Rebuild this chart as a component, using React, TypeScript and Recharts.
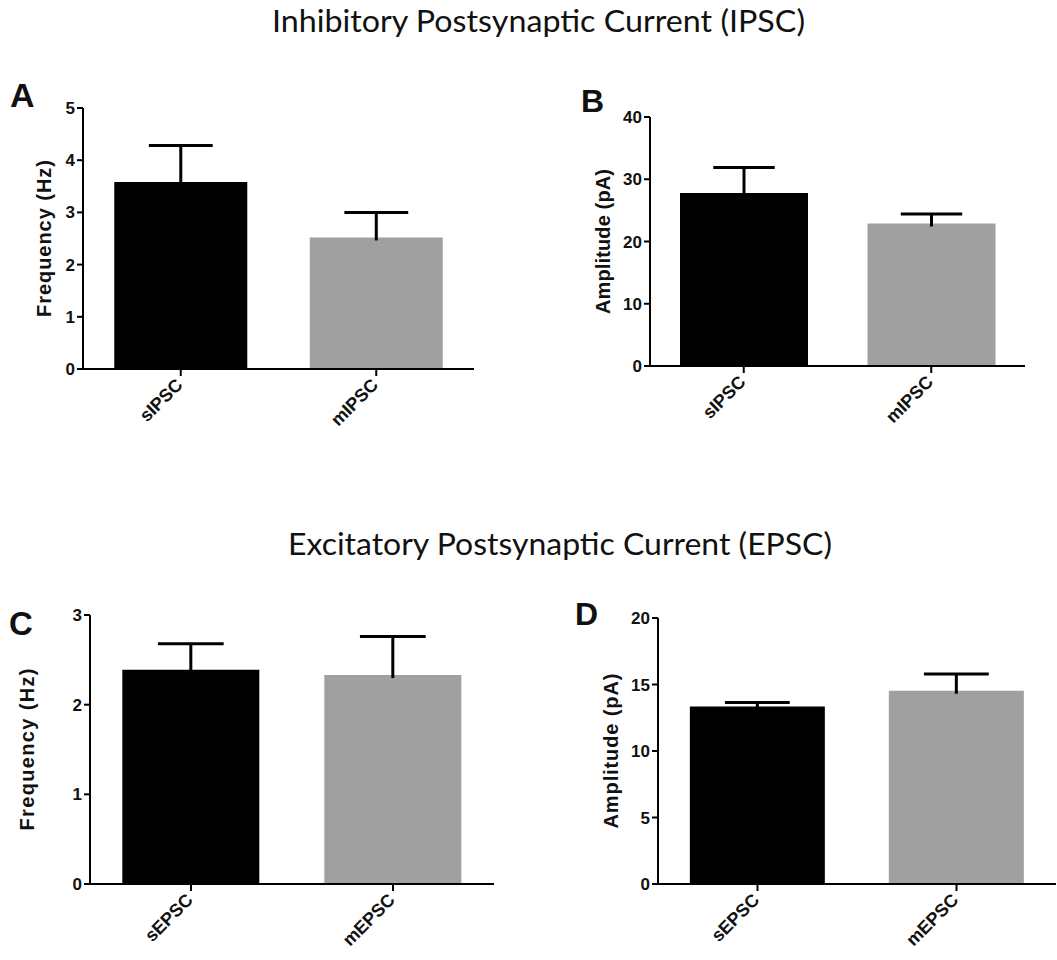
import React from 'react';
import { BarChart, Bar, XAxis, YAxis, Cell, Label } from 'recharts';

// ---------- data ----------
const ipscCategories = ['sIPSC', 'mIPSC'];
const ipscFrequency = [3.58, 2.52];
const ipscFrequencySem = [0.7, 0.48];
const ipscAmplitude = [27.8, 22.9];
const ipscAmplitudeSem = [4.1, 1.5];

const epscCategories = ['sEPSC', 'mEPSC'];
const epscFrequency = [2.39, 2.33];
const epscFrequencySem = [0.29, 0.43];
const epscAmplitude = [13.35, 14.53];
const epscAmplitudeSem = [0.3, 1.26];

const freqTicksA = [0, 1, 2, 3, 4, 5];
const ampTicksB = [0, 10, 20, 30, 40];
const freqTicksC = [0, 1, 2, 3];
const ampTicksD = [0, 5, 10, 15, 20];

const barColors = ['#000000', '#a0a0a0'];

const titleIPSC = 'Inhibitory Postsynaptic Current (IPSC)';
const titleEPSC = 'Excitatory Postsynaptic Current (EPSC)';
const freqLabel = 'Frequency (Hz)';
const ampLabel = 'Amplitude (pA)';

const ARIAL = 'Arial, "Liberation Sans", Helvetica, sans-serif';

// ---------- helpers ----------
const ErrShape = (props: any) => {
  const { x, y, width, height } = props;
  if (x == null || y == null) return null;
  const cx = x + width / 2;
  const capW = width * 0.48;
  return (
    <g>
      <line x1={cx} x2={cx} y1={y} y2={y + height + 3} stroke="#000" strokeWidth={3} />
      <line x1={cx - capW / 2} x2={cx + capW / 2} y1={y} y2={y} stroke="#000" strokeWidth={3} />
    </g>
  );
};

const XTick = (props: any) => {
  const { x, y, payload } = props;
  return (
    <g transform={`translate(${x + 3},${y + 8}) rotate(-45)`}>
      <text x={0} y={0} textAnchor="end" fontFamily={ARIAL} fontWeight="bold" fontSize={18} fill="#111">
        {payload.value}
      </text>
    </g>
  );
};

const makeYLabel = (text: string, offset: number, length: number) => (props: any) => {
  const vb = props.viewBox || {};
  const cx = vb.x + vb.width - offset;
  const cy = vb.y + vb.height / 2;
  return (
    <text
      x={cx}
      y={cy}
      transform={`rotate(-90 ${cx} ${cy})`}
      textAnchor="middle"
      dominantBaseline="central"
      textLength={length}
      lengthAdjust="spacing"
      fontFamily={ARIAL}
      fontWeight="bold"
      fontSize={20}
      fill="#111"
    >
      {text}
    </text>
  );
};

type PanelProps = {
  left: number;
  top: number;
  width: number;
  height: number;
  margin: { top: number; right: number; bottom: number; left: number };
  categories: string[];
  values: number[];
  sems: number[];
  ticks: number[];
  yLabel: string;
  yLabelOffset: number;
  yLabelLength: number;
};

const Panel = (p: PanelProps) => {
  const data = p.categories.map((name, i) => ({ name, value: p.values[i], sem: p.sems[i] }));
  return (
    <div style={{ position: 'absolute', left: p.left, top: p.top }}>
      <BarChart width={p.width} height={p.height} data={data} margin={p.margin} barCategoryGap="16%">
        <XAxis
          dataKey="name"
          height={60}
          interval={0}
          axisLine={{ stroke: '#000', strokeWidth: 2 }}
          tickLine={{ stroke: '#000', strokeWidth: 2 }}
          tickSize={7}
          tick={<XTick />}
        />
        <YAxis
          width={40}
          type="number"
          domain={[p.ticks[0], p.ticks[p.ticks.length - 1]]}
          ticks={p.ticks}
          allowDataOverflow
          interval={0}
          axisLine={{ stroke: '#000', strokeWidth: 2 }}
          tickLine={{ stroke: '#000', strokeWidth: 2 }}
          tickSize={6}
          tick={{ fill: '#111', fontSize: 17, fontWeight: 'bold', fontFamily: ARIAL }}
        >
          <Label content={makeYLabel(p.yLabel, p.yLabelOffset, p.yLabelLength)} />
        </YAxis>
        <Bar dataKey="value" stackId="s" isAnimationActive={false}>
          {data.map((d, i) => (
            <Cell key={d.name} fill={barColors[i]} />
          ))}
        </Bar>
        <Bar dataKey="sem" stackId="s" isAnimationActive={false} shape={<ErrShape />} />
      </BarChart>
    </div>
  );
};

export default function App() {
  return (
    <div style={{ position: 'absolute', left: 0, top: 0, width: 1057, height: 960, background: '#fff', overflow: 'hidden' }}>
      <svg width={1057} height={960} style={{ position: 'absolute', left: 0, top: 0 }}>
        <text x={538.5} y={32} textAnchor="middle" fontFamily="Lato, 'Open Sans', sans-serif" fontSize={30} fill="#111" textLength={533} lengthAdjust="spacingAndGlyphs">
          {titleIPSC}
        </text>
        <text x={560} y={555} textAnchor="middle" fontFamily="Lato, 'Open Sans', sans-serif" fontSize={30} fill="#111" textLength={544} lengthAdjust="spacingAndGlyphs">
          {titleEPSC}
        </text>
        <text x={10} y={107} fontFamily={ARIAL} fontWeight="bold" fontSize={34} fill="#111">A</text>
        <text x={581} y={112} fontFamily={ARIAL} fontWeight="bold" fontSize={32} fill="#111">B</text>
        <text x={9} y={635} fontFamily={ARIAL} fontWeight="bold" fontSize={33} fill="#111">C</text>
        <text x={575} y={625} fontFamily={ARIAL} fontWeight="bold" fontSize={32} fill="#111">D</text>
      </svg>

      <Panel
        left={0}
        top={0}
        width={530}
        height={480}
        margin={{ top: 108, right: 56, bottom: 51, left: 43 }}
        categories={ipscCategories}
        values={ipscFrequency}
        sems={ipscFrequencySem}
        ticks={freqTicksA}
        yLabel={freqLabel}
        yLabelOffset={39}
        yLabelLength={157}
      />
      <Panel
        left={530}
        top={0}
        width={527}
        height={480}
        margin={{ top: 117, right: 32, bottom: 54, left: 80 }}
        categories={ipscCategories}
        values={ipscAmplitude}
        sems={ipscAmplitudeSem}
        ticks={ampTicksB}
        yLabel={ampLabel}
        yLabelOffset={47}
        yLabelLength={145}
      />
      <Panel
        left={0}
        top={480}
        width={530}
        height={480}
        margin={{ top: 135, right: 36, bottom: 16, left: 50 }}
        categories={epscCategories}
        values={epscFrequency}
        sems={epscFrequencySem}
        ticks={freqTicksC}
        yLabel={freqLabel}
        yLabelOffset={63}
        yLabelLength={162}
      />
      <Panel
        left={530}
        top={480}
        width={527}
        height={480}
        margin={{ top: 138, right: 1, bottom: 16, left: 88 }}
        categories={epscCategories}
        values={epscAmplitude}
        sems={epscAmplitudeSem}
        ticks={ampTicksD}
        yLabel={ampLabel}
        yLabelOffset={47}
        yLabelLength={155}
      />
    </div>
  );
}
